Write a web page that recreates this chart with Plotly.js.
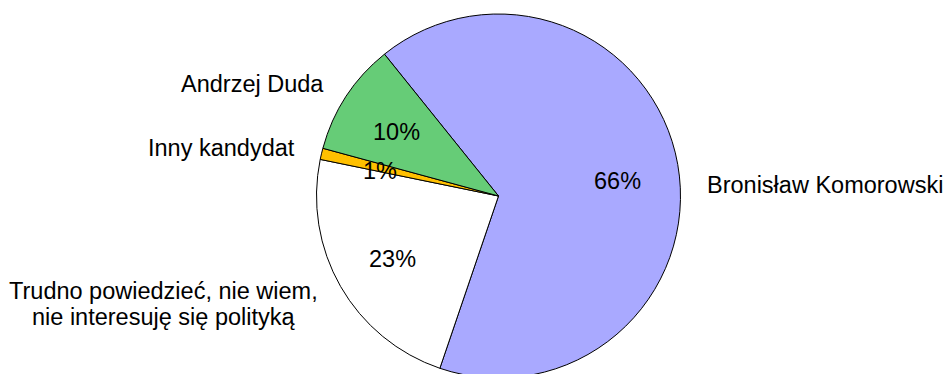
<!DOCTYPE html>
<html>
<head>
<meta charset="utf-8">
<script src="https://cdn.plot.ly/plotly-3.0.1.min.js"></script>
<style>
html, body { margin: 0; padding: 0; overflow: hidden; background: #fff; }
#chart { width: 945px; height: 380px; }
</style>
</head>
<body>
<div id="chart"></div>
<script>
// Data
var categories = ['Bronisław Komorowski', 'Trudno powiedzieć, nie wiem,<br>nie interesuję się polityką', 'Inny kandydat', 'Andrzej Duda'];
var values = [66, 23, 1, 10];
var sliceColors = ['#A9A9FF', '#FFFFFF', '#FFC000', '#66CC77'];

var W = 945, T = 14, PH = 364;
function px(x) { return x / W; }
function py(y) { return (T + PH - y) / PH; }

var total = values.reduce(function (a, b) { return a + b; }, 0);
var pct = values.map(function (v) { return Math.round(v / total * 100) + '%'; });

// text placement (pixel centres) per category; one entry per text line
var pctPos = [[617.5, 180.5], [392, 259], [380, 170.5], [396.5, 131.5]];
var labelPos = [
  { x: 825, y: [185], anchor: 'center' },
  { x: 163, y: [290.5, 316.5], anchor: 'center' },
  { x: 296, y: [148], anchor: 'right' },
  { x: 325, y: [84.5], anchor: 'right' }
];

var font = { family: 'Liberation Sans, Arial, sans-serif', size: 23.5, color: '#000' };
var annotations = [];
for (var i = 0; i < categories.length; i++) {
  annotations.push({
    text: pct[i], xref: 'paper', yref: 'paper',
    x: px(pctPos[i][0]), y: py(pctPos[i][1]),
    xanchor: 'center', yanchor: 'middle', showarrow: false, font: font, borderpad: 0
  });
  var lines = categories[i].split('<br>');
  for (var j = 0; j < lines.length; j++) {
    annotations.push({
      text: lines[j], xref: 'paper', yref: 'paper',
      x: px(labelPos[i].x), y: py(labelPos[i].y[j]),
      xanchor: labelPos[i].anchor, yanchor: 'middle', align: 'center',
      showarrow: false, font: font, borderpad: 0
    });
  }
}

var trace = {
  type: 'pie',
  labels: categories,
  values: values,
  sort: false,
  direction: 'clockwise',
  rotation: -38.8,
  marker: { colors: sliceColors, line: { color: '#000', width: 1 } },
  textinfo: 'none',
  hoverinfo: 'skip',
  showlegend: false,
  domain: { x: [(498.5 - 182) / W, (498.5 + 182) / W], y: [0, 1] }
};

var layout = {
  width: 945, height: 380,
  margin: { l: 0, r: 0, t: T, b: 380 - T - PH },
  paper_bgcolor: '#fff', plot_bgcolor: '#fff',
  showlegend: false,
  annotations: annotations
};

Plotly.newPlot('chart', [trace], layout, { displayModeBar: false, staticPlot: true });
</script>
</body>
</html>
